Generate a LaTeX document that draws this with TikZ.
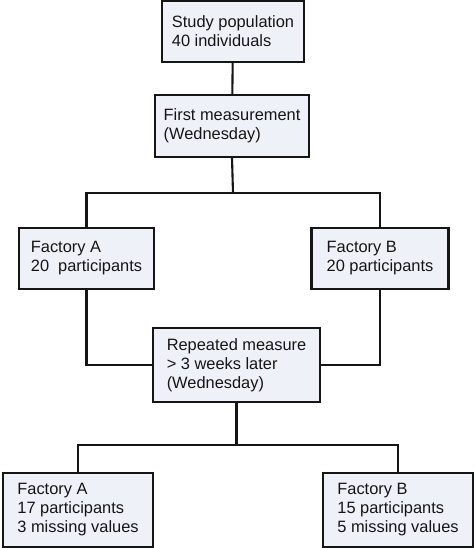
\documentclass[tikz,border=0pt]{standalone}
\usepackage{fontspec}
\setmainfont{Liberation Sans}
\definecolor{boxfill}{HTML}{EEF2F8}
\definecolor{ink}{HTML}{151515}
\begin{document}
\begin{tikzpicture}[x=1pt,y=1pt,
  flowbox/.style={draw=ink,fill=boxfill,line width=2.1pt,rectangle,align=left,
    font=\fontsize{16.4}{19}\selectfont,text=ink,inner sep=0pt},
  link/.style={draw=ink,line width=2.1pt}]
\useasboundingbox (0,0) rectangle (474,-548);
\node[flowbox,minimum width=142,minimum height=61] (pop) at (233,-31.5) {Study population\\40 individuals};
\node[flowbox,minimum width=154,minimum height=62] (first) at (232,-126) {First measurement\\(Wednesday)};
\node[flowbox,minimum width=135,minimum height=61] (fa) at (86.5,-258.5) {Factory A\\20\ \ participants};
\node[flowbox,minimum width=137,minimum height=61] (fb) at (380,-258.5) {Factory B\\20 participants};
\node[flowbox,minimum width=167,minimum height=74] (rep) at (236.5,-365) {Repeated measure\\> 3 weeks later\\(Wednesday)};
\node[flowbox,minimum width=150,minimum height=74] (ba) at (78,-510) {Factory A\\17 participants\\3 missing values};
\node[flowbox,minimum width=150,minimum height=74] (bb) at (398,-510) {Factory B\\15 participants\\5 missing values};
\coordinate (split1) at (233,-193);
\coordinate (split2) at (236.5,-445);
\draw[link] (pop) -- (first);
\draw[link] (first.south) -- (split1);
\draw[link] (fa.north) |- (split1) -| (fb.north);
\draw[link] (fa.south) |- (rep.west);
\draw[link] (fb.south) |- (rep.east);
\draw[link] (rep.south) -- (split2);
\draw[link] (ba.north) |- (split2) -| (bb.north);
\end{tikzpicture}
\end{document}
